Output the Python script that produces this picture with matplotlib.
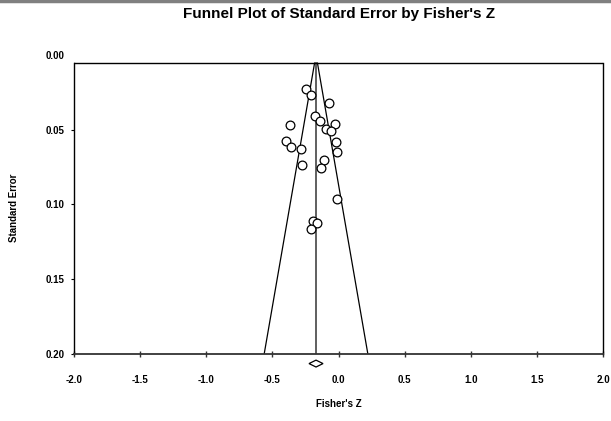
import matplotlib
matplotlib.use("Agg")
import matplotlib.pyplot as plt
from matplotlib.lines import Line2D
from matplotlib.patches import Polygon

plt.rcParams['font.family'] = ['Liberation Sans', 'DejaVu Sans']

# study effects (Fisher's Z) and their standard errors
fisher_z = [-0.248, -0.206, -0.070, -0.178, -0.140, -0.364, -0.026, -0.095,
            -0.057, -0.397, -0.361, -0.286, -0.019, -0.009, -0.276, -0.110,
            -0.135, -0.014, -0.195, -0.165, -0.210]
std_err = [0.0232, 0.0268, 0.0321, 0.0412, 0.0446, 0.0473, 0.0462, 0.0495,
           0.0509, 0.0576, 0.0618, 0.0633, 0.0582, 0.0653, 0.0740, 0.0705,
           0.0760, 0.0961, 0.1111, 0.1127, 0.1162]

# combined estimate and its confidence interval
summary_z = -0.170
summary_low = -0.223
summary_high = -0.117

x_ticks = [-2.0, -1.5, -1.0, -0.5, 0.0, 0.5, 1.0, 1.5, 2.0]
y_ticks = [0.00, 0.05, 0.10, 0.15, 0.20]
se_top = 0.0056   # the plot frame starts just below SE = 0
se_bottom = 0.20

fig = plt.figure(figsize=(6.11, 4.21), dpi=100)
ax = fig.add_axes([74 / 611, 67 / 421, 529 / 611, 299.3 / 421])

# funnel (clipped to the frame)
ax.plot([summary_z, summary_z], [se_top, se_bottom], color='#444444', lw=1.2,
        zorder=2)
ax.plot([summary_z - 1.96 * se_bottom, summary_z - 1.96 * se_top],
        [se_bottom, se_top], color='black', lw=0.9, zorder=2)
ax.plot([summary_z + 1.96 * se_bottom, summary_z + 1.96 * se_top],
        [se_bottom, se_top], color='black', lw=0.9, zorder=2)

ax.plot(fisher_z, std_err, 'o', ms=6.3, mfc='white', mec='black', mew=0.9,
        zorder=3)

# summary diamond below axis
dia_y = 0.2064
hh = 0.0023
diamond = Polygon([(summary_low, dia_y), (summary_z, dia_y - hh),
                   (summary_high, dia_y), (summary_z, dia_y + hh)],
                  closed=True, facecolor='white', edgecolor='black', lw=0.9,
                  clip_on=False, zorder=4)
ax.add_patch(diamond)

ax.set_xlim(-2, 2)
ax.set_ylim(se_bottom, 0)

ax.set_xticks(x_ticks)
ax.set_xticklabels(['%.1f' % v for v in x_ticks], fontsize=7, fontweight='bold')
ax.set_yticks(y_ticks)
ax.set_yticklabels(['%.2f' % v for v in y_ticks], fontsize=7, fontweight='bold')
ax.tick_params(axis='x', direction='inout', length=4, width=1, pad=13,
               color='#333333')
ax.tick_params(axis='y', direction='out', length=2, width=0.8, pad=5)
ax.yaxis.get_major_ticks()[0].tick1line.set_visible(False)

# frame: top edge sits at se_top
ax.spines['top'].set_visible(False)
ax.spines['left'].set_bounds(se_top, se_bottom)
ax.spines['right'].set_bounds(se_top, se_bottom)
ax.axhline(se_top, color='black', lw=1.0, zorder=5)
for s in ax.spines.values():
    s.set_linewidth(1.0)
    s.set_color('black')
ax.spines['bottom'].set_color('#333333')
ax.spines['bottom'].set_linewidth(1.3)

fig.text(339 / 611, 1 - 14 / 421, "Funnel Plot of Standard Error by Fisher's Z",
         fontsize=11, fontweight='bold', ha='center', va='center')
ax.set_xlabel("Fisher's Z", fontsize=7, fontweight='bold')
ax.xaxis.set_label_coords(0.5, -(404 - 354) / 299.3)
ax.xaxis.label.set_va('center')
ax.set_ylabel("Standard Error", fontsize=7, fontweight='bold')
ax.yaxis.set_label_coords(-(74 - 14) / 529, (354 - 208) / 299.3)
ax.yaxis.label.set_va('center')

# gray rule across the top of the figure
fig.add_artist(Line2D([0, 1], [0.997, 0.997], color='#808080', lw=2.5,
                      transform=fig.transFigure))

fig.savefig('out.png', dpi=100)
